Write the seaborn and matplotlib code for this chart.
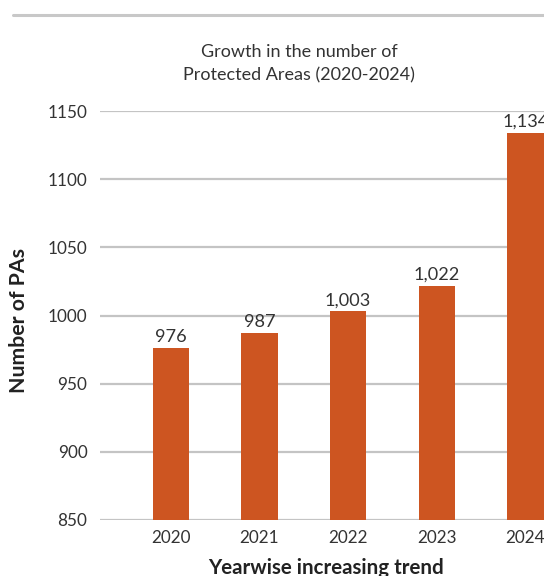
import matplotlib
matplotlib.use("Agg")
import matplotlib.pyplot as plt
import seaborn as sns
import pandas as pd
from matplotlib.lines import Line2D

years = ["2020", "2021", "2022", "2023", "2024"]
values = [976, 987, 1003, 1022, 1134]
value_labels = ["976", "987", "1,003", "1,022", "1,134"]
y_ticks = [850, 900, 950, 1000, 1050, 1100, 1150]
title_lines = ["Growth in the number of", "Protected Areas (2020-2024)"]
x_title = "Yearwise increasing trend"
y_title = "Number of PAs"

sns.set_theme(style="white")
plt.rcParams['font.family'] = ['Lato', 'DejaVu Sans']

W, H = 544, 576
df = pd.DataFrame({"year": years, "value": values})

fig = plt.figure(figsize=(W/100, H/100), dpi=100)
renderer = fig.canvas.get_renderer()


def fit_size(text, target, weight="normal", rotation=0):
    t = fig.text(0, 0, text, fontsize=10, fontweight=weight, rotation=rotation)
    bb = t.get_window_extent(renderer)
    w = bb.height if rotation else bb.width
    t.remove()
    return 10 * target / w


tick_fs = fit_size("1150", 40)
val_fs = fit_size("1,003", 46)
title_fs = fit_size(title_lines[0], 198)
xl_fs = fit_size(x_title, 237, weight="bold")
yl_fs = fit_size(y_title, 145, weight="bold", rotation=90)

ax = fig.add_axes([100/W, 1-520/H, 1-100/W, (520-111)/H])

grid_c = "#c4c4c4"
ax.set_axisbelow(True)
for t in y_ticks:
    ax.axhline(t, color=grid_c, lw=1.6, zorder=0)

sns.barplot(data=df, x="year", y="value", color="#CD5521", width=0.41,
            saturation=1, linewidth=0, ax=ax, zorder=2)

ax.set_ylim(850, 1150)
ax.set_xlim(-0.8, 4.21)
ax.set_yticks(y_ticks)
ax.set_yticklabels([str(t) for t in y_ticks])
for s in ax.spines.values():
    s.set_visible(False)
ax.tick_params(axis="both", length=0, labelsize=tick_fs, colors="#333333")
ax.tick_params(axis="y", pad=9)
ax.tick_params(axis="x", pad=7)
ax.set_xlabel("")
ax.set_ylabel("")

for i, (v, lab) in enumerate(zip(values, value_labels)):
    ax.annotate(lab, (i, v), xytext=(0, 4.5), textcoords="offset points",
                ha="center", va="baseline", fontsize=val_fs, color="#333333",
                annotation_clip=False)

fig.text(326/W, 1-574/H, x_title, ha="center", va="baseline",
         fontsize=xl_fs, fontweight="bold", color="#222222")
fig.text(19/W, 1-320.5/H, y_title, ha="center", va="center", rotation=90,
         fontsize=yl_fs, fontweight="bold", color="#222222")
fig.text(299/W, 1-57/H, title_lines[0], ha="center", va="baseline",
         fontsize=title_fs, color="#333333")
fig.text(299/W, 1-80/H, title_lines[1], ha="center", va="baseline",
         fontsize=title_fs, color="#333333")

fig.add_artist(Line2D([13/W, 1], [1-15/H, 1-15/H], color="#c8c8c8", lw=2.2,
                      transform=fig.transFigure))

fig.savefig("out.png", dpi=100)
